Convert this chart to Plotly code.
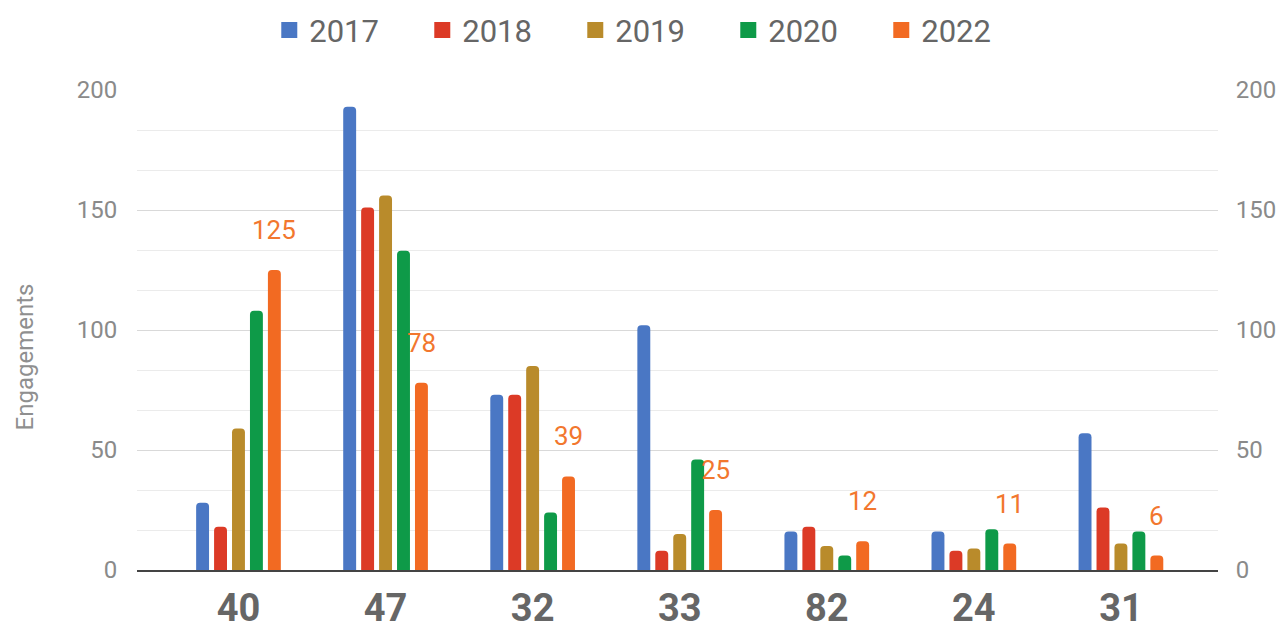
import plotly.graph_objects as go

categories = ["40", "47", "32", "33", "82", "24", "31"]
years = ["2017", "2018", "2019", "2020", "2022"]
v2017 = [28, 193, 73, 102, 16, 16, 57]
v2018 = [18, 151, 73, 8, 18, 8, 26]
v2019 = [59, 156, 85, 15, 10, 9, 11]
v2020 = [108, 133, 24, 46, 6, 17, 16]
v2022 = [125, 78, 39, 25, 12, 11, 6]
series = [v2017, v2018, v2019, v2020, v2022]
colors = ["#4a77c4", "#dc3a26", "#b98b2b", "#0e9a48", "#f26a22"]
label_color = "#f2772e"

BARGAP = 0.39
BARGROUPGAP = 0.28

fig = go.Figure()
for name, vals, col in zip(years, series, colors):
    fig.add_trace(go.Bar(
        x=list(range(len(categories))), y=vals, name=name,
        marker=dict(color=col, line=dict(width=0)),
        hoverinfo="y", showlegend=False,
    ))

# legend entries with larger square swatches
for name, col in zip(years, colors):
    fig.add_trace(go.Scatter(
        x=[None], y=[None], name=name, mode="markers",
        marker=dict(symbol="square", size=16, color=col),
    ))

# data labels for 2022 series, placed above bars
n = len(years)
slot = (1 - BARGAP) / n
off = (n - 1 - (n - 1) / 2) * slot
for i, v in enumerate(v2022):
    fig.add_annotation(
        x=i + off, y=v, xref="x", yref="y", text=str(v), showarrow=False,
        yshift=40, yanchor="middle",
        font=dict(family="Roboto", size=26, color=label_color),
    )

# y-axis title (placed slightly below the plot centre, as in the reference)
fig.add_annotation(
    x=-0.104, y=0.444, xref="paper", yref="paper", text="Engagements",
    textangle=-90, showarrow=False, xanchor="center", yanchor="middle",
    font=dict(family="Roboto", size=24, color="#8f8f8f"),
)

axis_font = dict(family="Roboto", size=24, color="#8a8a8a")

fig.update_layout(
    width=1278, height=631,
    paper_bgcolor="white", plot_bgcolor="white",
    margin=dict(l=137, r=60, t=90, b=61, autoexpand=False),
    barmode="group", bargap=BARGAP, bargroupgap=BARGROUPGAP,
    barcornerradius=4,
    showlegend=True,
    legend=dict(
        orientation="h", xref="container", yref="container",
        x=0.51, xanchor="center", y=0.952, yanchor="middle",
        font=dict(family="Roboto", size=31, color="#666666"),
        itemsizing="trace", entrywidth=108,
    ),
    xaxis=dict(
        tickmode="array", tickvals=list(range(len(categories))), ticktext=categories,
        range=[-0.69, 6.66], showgrid=False, zeroline=False, automargin=False,
        showline=True, linecolor="#444444", linewidth=2,
        ticks="outside", ticklen=3, tickcolor="rgba(0,0,0,0)",
        tickfont=dict(family="Roboto", size=38, color="#666666", weight="bold"),
    ),
    yaxis=dict(
        range=[0, 200], tick0=0, dtick=50, showgrid=True, gridcolor="#d9d9d9",
        gridwidth=1, zeroline=False, automargin=False,
        minor=dict(dtick=50 / 3, showgrid=True, gridcolor="#ebebeb", gridwidth=1),
        ticks="outside", ticklen=14, tickcolor="rgba(0,0,0,0)",
        tickfont=axis_font,
    ),
    yaxis2=dict(
        range=[0, 200], tick0=0, dtick=50, overlaying="y", side="right",
        showgrid=False, zeroline=False, matches="y", automargin=False,
        ticks="outside", ticklen=12, tickcolor="rgba(0,0,0,0)",
        tickfont=axis_font,
    ),
)

# invisible trace to anchor the right axis
fig.add_trace(go.Scatter(x=[0], y=[0], yaxis="y2", mode="markers",
                         marker=dict(opacity=0), showlegend=False, hoverinfo="skip"))

fig.write_html("out.html", config={"displayModeBar": False},
               post_script="document.body.style.margin='0';document.body.style.overflow='hidden';")
